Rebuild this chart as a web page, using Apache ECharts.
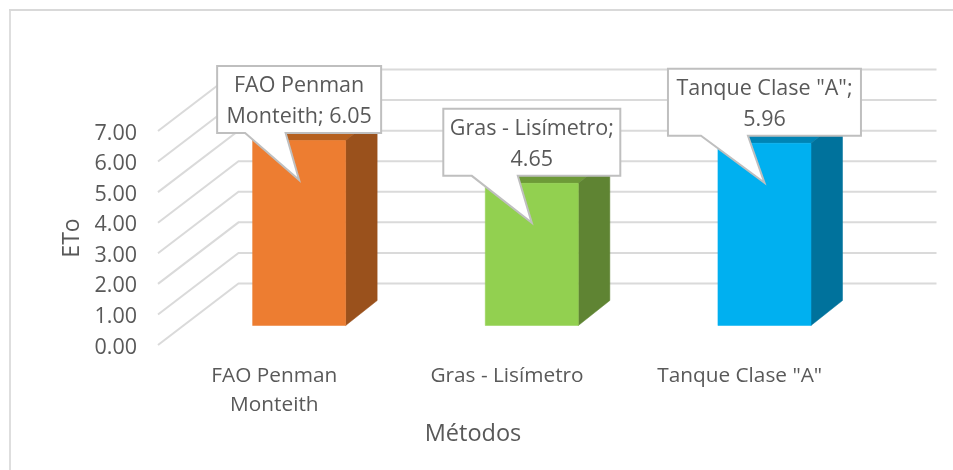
<!DOCTYPE html>
<html lang="es">
<head>
<meta charset="utf-8">
<title>ETo por método</title>
<style>
  html, body { margin: 0; padding: 0; background: #fff; }
  #chart { width: 953px; height: 470px; }
</style>
<script src="https://cdn.jsdelivr.net/npm/echarts@6/dist/echarts.min.js"></script>
</head>
<body>
<div id="chart"></div>
<script>
// Evapotranspiration of reference by method
const categories = ['FAO Penman\nMonteith', 'Gras - Lisímetro', 'Tanque Clase "A"'];
const etoValues = [6.05, 4.65, 5.96];
const yTicks = [0, 1, 2, 3, 4, 5, 6, 7];
const calloutNames = ['FAO Penman\nMonteith; ', 'Gras - Lisímetro;\n', 'Tanque Clase "A";\n'];
const frontColors = ['#ED7D31', '#92D050', '#00B0F0'];
const sideColors = ['#9A511C', '#5F8433', '#00729C'];
const topColors = ['#B5601F', '#6D9A38', '#0084B5'];

// Oblique projection of the false 3D floor
const WALL_DX = 80.5, WALL_DY = -61.5;
const BAR_SHIFT_X = 24.8, BAR_SHIFT_Y = -19.5;
const BAR_DX = 31.5, BAR_DY = -25;
const BAR_FRACTION = 0.4;

// Callout geometry relative to the bar's front centre and top edge
const calloutWidths = [164, 177, 193];
const calloutBases = [[-54, -13.5], [-60, -14], [-63.5, -16.5]];
const CALLOUT_HEIGHT = 67, CALLOUT_GAP = 7.5, TIP_DROP = 39.5;

const TEXT = '#595959', FONT = '"Open Sans", sans-serif';

function poly(points, fill) {
  return { type: 'polygon', shape: { points }, style: { fill, stroke: fill, lineWidth: 0.5 } };
}

function renderGridline(params, api) {
  const c = params.coordSys;
  const y = api.coord([0, api.value(0)])[1];
  return {
    type: 'polyline',
    shape: { points: [[c.x, y], [c.x + WALL_DX, y + WALL_DY], [c.x + c.width + WALL_DX, y + WALL_DY]] },
    style: { fill: null, stroke: '#DADADA', lineWidth: 2 }
  };
}

function barFront(api) {
  const i = api.value(0);
  const base = api.coord([i, 0]);
  const top = api.coord([i, api.value(1)]);
  const w = api.size([1, 0])[0] * BAR_FRACTION;
  const cx = base[0] + BAR_SHIFT_X;
  return { cx, w, bottom: base[1] + BAR_SHIFT_Y, top: top[1] + BAR_SHIFT_Y };
}

function renderBar(params, api) {
  const i = api.value(0);
  const { cx, w, bottom, top } = barFront(api);
  const l = cx - w / 2, r = cx + w / 2;
  return {
    type: 'group',
    children: [
      poly([[l, top], [r, top], [r + BAR_DX, top + BAR_DY], [l + BAR_DX, top + BAR_DY]], topColors[i]),
      poly([[r, top], [r, bottom], [r + BAR_DX, bottom + BAR_DY], [r + BAR_DX, top + BAR_DY]], sideColors[i]),
      poly([[l, top], [r, top], [r, bottom], [l, bottom]], frontColors[i])
    ]
  };
}

function renderCallout(params, api) {
  const i = api.value(0);
  const { cx, top } = barFront(api);
  const half = calloutWidths[i] / 2;
  const boxBottom = top - CALLOUT_GAP;
  const boxTop = boxBottom - CALLOUT_HEIGHT;
  const outline = [
    [cx - half, boxTop], [cx + half, boxTop], [cx + half, boxBottom],
    [cx + calloutBases[i][1], boxBottom], [cx, top + TIP_DROP],
    [cx + calloutBases[i][0], boxBottom], [cx - half, boxBottom]
  ];
  return {
    type: 'group',
    children: [
      { type: 'polygon', shape: { points: outline }, style: { fill: '#fff', stroke: '#BFBFBF', lineWidth: 2 } },
      {
        type: 'text',
        style: {
          text: calloutNames[i] + api.value(1).toFixed(2),
          x: cx, y: (boxTop + boxBottom) / 2 + 2,
          align: 'center', verticalAlign: 'middle',
          fill: TEXT, font: '21.5px ' + FONT, lineHeight: 31
        }
      }
    ]
  };
}

const chart = echarts.init(document.getElementById('chart'), null, { renderer: 'canvas' });
const barData = etoValues.map((v, i) => [i, v]);

chart.setOption({
  animation: false,
  backgroundColor: '#fff',
  grid: { left: 158, top: 131, width: 698, height: 214 },
  xAxis: {
    type: 'category',
    data: categories,
    axisLine: { show: false },
    axisTick: { show: false },
    axisLabel: { color: TEXT, fontFamily: FONT, fontSize: 20.8, lineHeight: 29, margin: 17, interval: 0 },
    name: 'Métodos',
    nameLocation: 'middle',
    nameGap: 77,
    nameTextStyle: { color: TEXT, fontFamily: FONT, fontSize: 23.5, padding: [0, 68, 0, 0] }
  },
  yAxis: {
    type: 'value',
    min: 0,
    max: 7,
    interval: 1,
    axisLine: { show: false },
    axisTick: { show: false },
    splitLine: { show: false },
    axisLabel: { color: TEXT, fontFamily: FONT, fontSize: 21.5, margin: 21, verticalAlign: 'top', lineHeight: 5, formatter: v => v.toFixed(2) },
    name: 'ETo',
    nameLocation: 'middle',
    nameGap: 74,
    nameTextStyle: { color: TEXT, fontFamily: FONT, fontSize: 23 }
  },
  graphic: [
    { type: 'line', shape: { x1: 10, y1: 9, x2: 10, y2: 470 }, style: { stroke: '#DEDEDE', lineWidth: 2 } },
    { type: 'line', shape: { x1: 9, y1: 10, x2: 953, y2: 10 }, style: { stroke: '#D9D9D9', lineWidth: 2 } }
  ],
  series: [
    { type: 'custom', coordinateSystem: 'cartesian2d', z: 1, silent: true,
      data: yTicks.map(v => [v]), encode: { y: 0 }, renderItem: renderGridline },
    { type: 'custom', coordinateSystem: 'cartesian2d', z: 2, silent: true,
      data: barData, encode: { x: 0, y: 1 }, renderItem: renderBar },
    { type: 'custom', coordinateSystem: 'cartesian2d', z: 3, silent: true,
      data: barData, encode: { x: 0, y: 1 }, renderItem: renderCallout }
  ]
});
</script>
</body>
</html>
